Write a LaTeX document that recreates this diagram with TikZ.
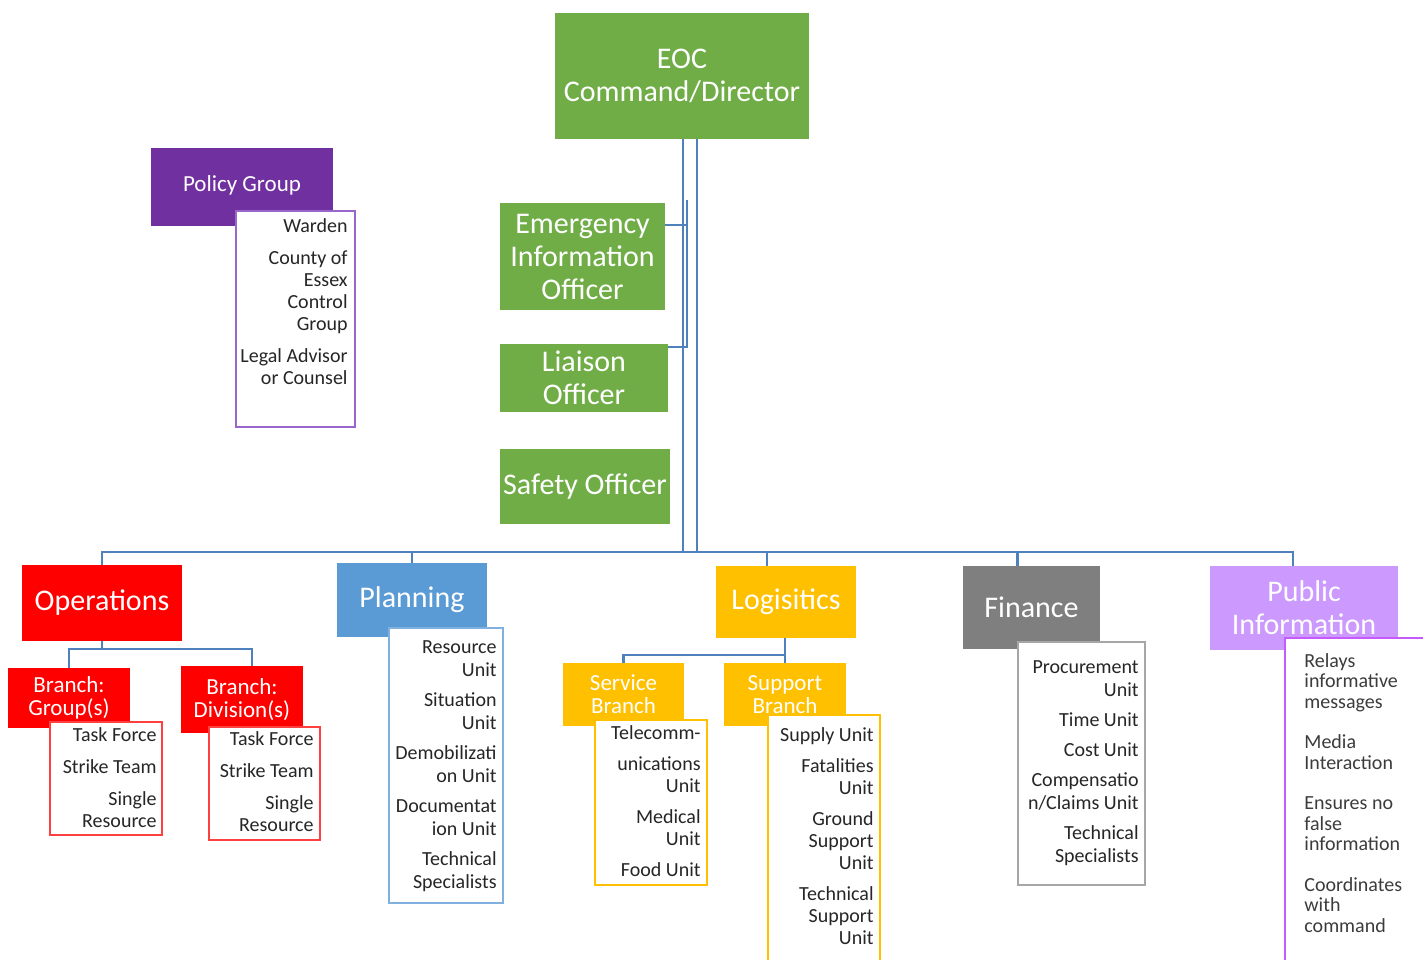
\documentclass[tikz,border=0pt]{standalone}
\usepackage{fontspec}
\setmainfont{Carlito}
\usetikzlibrary{calc}
\definecolor{cgreen}{HTML}{70AD47}
\definecolor{cpdark}{HTML}{7030A0}
\definecolor{cplight}{HTML}{9966CC}
\definecolor{cred}{HTML}{FF0000}
\definecolor{credl}{HTML}{FF4040}
\definecolor{cblue}{HTML}{5B9BD5}
\definecolor{cbluel}{HTML}{7FB0E0}
\definecolor{cgold}{HTML}{FFC000}
\definecolor{cgray}{HTML}{7F7F7F}
\definecolor{cgrayl}{HTML}{A6A6A6}
\definecolor{clav}{HTML}{CC99FF}
\definecolor{clavl}{HTML}{C55BFF}
\definecolor{cconn}{HTML}{4F81BD}
\definecolor{ctxt}{HTML}{262626}
\newcommand\Tfnt{\fontsize{15}{16.5}\selectfont}
\newcommand\Mfnt{\fontsize{11.5}{11.5}\selectfont}
\newcommand\Pfnt{\fontsize{11.5}{12}\selectfont}
\newcommand\Sfnt{\fontsize{10}{11}\selectfont}
\newcommand\RL[1]{\begin{tabular}[t]{@{}r@{}}#1\end{tabular}}
\newcommand\LL[1]{\begin{tabular}[t]{@{}l@{}}#1\end{tabular}}
\tikzset{
  box/.style n args={4}{at={({(#1+#3)/2},{(#2+#4)/2})}, minimum width={(#3-#1)*0.5pt}, minimum height={(#4-#2)*0.5pt}},
  tbox/.style={draw=none, inner sep=0pt, outer sep=0pt, text=white, align=center, font=\Tfnt},
  mbox/.style={tbox, font=\Mfnt},
  lbox/.style={fill=white, line width=1pt, inner sep=0pt, outer sep=0pt},
  ltext/.style={anchor=base east, font=\Sfnt, text=ctxt, inner sep=0pt},
  conn/.style={draw=cconn, line width=1.1pt}
}
\begin{document}
\begin{tikzpicture}[x=0.5pt, y=-0.5pt]
\useasboundingbox (0,0) rectangle (1423,959);
\clip (0,0) rectangle (1423,959);

% top
\node[tbox, fill=cgreen, box={555}{13}{809}{139}] (eoc) {EOC\\Command/Director};
\node[tbox, fill=cpdark, font=\Pfnt, box={151}{148}{333}{222}] (pol) {Policy Group};
\path[fill=cpdark] (pol.south west) rectangle ($(pol.south east)+(0,4)$);
\node[lbox, draw=cplight, box={236}{211}{355}{427}] (poll) {};
\node[ltext] (polt) at (348,232) {\RL{Warden\\[5pt]County of\\Essex\\Control\\Group\\[5pt]Legal Advisor\\or Counsel}};

\node[tbox, fill=cgreen, box={500}{203}{665}{310}] (eio) {Emergency\\Information\\Officer};
\node[tbox, fill=cgreen, box={500}{344}{668}{412}] (lia) {Liaison\\Officer};
\node[tbox, fill=cgreen, box={500}{449}{670}{524}] (saf) {Safety Officer};

% operations
\node[tbox, fill=cred, box={22}{565}{182}{641}] (ops) {Operations};
\node[mbox, fill=cred, box={8}{668}{130}{728}] (grp) {Branch:\\Group(s)};
\node[lbox, draw=credl, box={50}{722}{162}{835}] (grpl) {};
\node[ltext] (grpt) at (157,741) {\RL{Task Force\\[5pt]Strike Team\\[5pt]Single\\Resource}};
\node[mbox, fill=cred, box={181}{666}{303}{733}] (div) {Branch:\\Division(s)};
\node[lbox, draw=credl, box={209}{727}{320}{840}] (divl) {};
\node[ltext] (divt) at (314,745) {\RL{Task Force\\[5pt]Strike Team\\[5pt]Single\\Resource}};

% planning
\node[tbox, fill=cblue, box={337}{563}{487}{637}] (plan) {Planning};
\node[lbox, draw=cbluel, box={389}{628}{503}{903}] (planl) {};
\node[ltext, font=\fontsize{10}{11.75}\selectfont] (plant) at (497,653) {\RL{Resource\\Unit\\[3pt]Situation\\Unit\\[3pt]Demobilizati\\on Unit\\[3pt]Documentat\\ion Unit\\[3pt]Technical\\Specialists}};

% logistics
\node[tbox, fill=cgold, box={716}{566}{856}{638}] (log) {Logisitics};
\node[mbox, fill=cgold, box={563}{663}{684}{726}] (svc) {Service\\Branch};
\node[lbox, draw=cgold, box={595}{720}{707}{885}] (svcl) {};
\node[ltext] (svct) at (701,739) {\RL{Telecomm-\\[4.5pt]unications\\Unit\\[4.5pt]Medical\\Unit\\[4.5pt]Food Unit}};
\node[mbox, fill=cgold, box={724}{663}{846}{726}] (sup) {Support\\Branch};
\node[lbox, draw=cgold, box={768}{715}{880}{975}] (supl) {};
\node[ltext] (supt) at (874,741) {\RL{Supply Unit\\[4.5pt]Fatalities\\Unit\\[4.5pt]Ground\\Support\\Unit\\[4.5pt]Technical\\Support\\Unit}};

% finance
\node[tbox, fill=cgray, box={963}{566}{1100}{649}] (fin) {Finance};
\node[lbox, draw=cgrayl, box={1018}{642}{1145}{885}] (finl) {};
\node[ltext, font=\fontsize{10}{11.5}\selectfont] (fint) at (1139,673) {\RL{Procurement\\Unit\\[3.5pt]Time Unit\\[3.5pt]Cost Unit\\[3.5pt]Compensatio\\n/Claims Unit\\[3.5pt]Technical\\Specialists}};

% public information
\node[tbox, fill=clav, box={1210}{566}{1398}{650}] (pi) {Public\\Information};
\node[lbox, draw=clavl, box={1285}{638}{1440}{975}] (pil) {};
\node[ltext, anchor=base west, font=\fontsize{10}{10.25}\selectfont, text=ctxt!90] (pit) at (1304,667) {\LL{Relays\\informative\\messages\\[10pt]Media\\Interaction\\[10pt]Ensures no\\false\\information\\[10pt]Coordinates\\with\\command}};

% connectors
\coordinate (busL) at (683,552);
\coordinate (busR) at (697,552);
\draw[conn] (eoc.south -| busL) -- (busL);
\draw[conn] (eoc.south -| busR) -- (busR);
\coordinate (brk) at (687,200);
\coordinate (eioc) at ($(eio.north east)+(0,22)$);
\draw[conn] (eioc) -- (eioc -| brk);
\draw[conn] (brk) |- ($(lia.north east)+(0,3)$);

\coordinate (logT) at ($(log.north)+(-19,0)$);
\coordinate (finT) at ($(fin.north)+(-14,0)$);
\coordinate (piT) at ($(pi.north)+(-11,0)$);
\draw[conn] (ops.north) -- (ops.north |- busL) -- (piT |- busL) -- (piT);
\draw[conn] (plan.north) -- (plan.north |- busL);
\draw[conn] (logT) -- (logT |- busL);
\draw[conn] (finT) -- (finT |- busL);

\coordinate (opsJ) at ($(ops.south)+(0,8)$);
\coordinate (divT) at ($(div.north)+(10,0)$);
\draw[conn] (ops.south) -- (opsJ);
\draw[conn] (grp.north) -- (grp.north |- opsJ) -- (divT |- opsJ) -- (divT);

\coordinate (logJ) at ($(log.south)+(0,17)$);
\draw[conn] (log.south -| sup.north) -- (sup.north);
\draw[conn] (svc.north) |- (logJ -| sup.north);
\end{tikzpicture}
\end{document}
